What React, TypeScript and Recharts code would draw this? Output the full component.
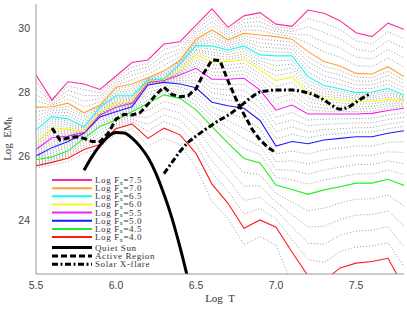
import React from "react";
import { LineChart, Line, XAxis, YAxis, Legend } from "recharts";

// temperature grid of the model tracks
const logT = [5.5, 5.6, 5.7, 5.8, 5.9, 6.0, 6.1, 6.2, 6.3, 6.4, 6.5, 6.6, 6.7, 6.8, 6.9, 7.0, 7.1, 7.2, 7.3, 7.4, 7.5, 7.6, 7.7, 7.8];

// coloured tracks, Log Fx = 4.0 ... 7.5
const fx40 = [25.69, 25.8, 25.93, 26.2, 26.36, 26.85, 27.0, 26.55, 26.87, 26.66, 26.08, 25.12, 24.52, 23.74, 24.0, 23.77, 23.0, 22.25, 22.1, 22.5, 22.65, 22.7, 22.8, 21.9];
const fx45 = [25.88, 25.97, 26.16, 26.55, 26.92, 27.12, 27.38, 27.65, 27.91, 27.8, 27.44, 26.92, 26.4, 25.92, 25.78, 25.09, 24.95, 24.8, 24.94, 25.04, 25.15, 25.15, 25.27, 25.08];
const fx50 = [26.0, 26.26, 26.45, 26.71, 27.22, 27.38, 27.54, 28.22, 28.3, 28.25, 28.13, 27.68, 27.57, 27.49, 27.11, 26.31, 26.45, 26.38, 26.5, 26.55, 26.6, 26.6, 26.71, 26.79];
const fx55 = [26.2, 26.57, 26.62, 26.74, 27.28, 27.52, 27.65, 28.3, 28.36, 28.53, 28.74, 28.4, 28.4, 28.43, 28.06, 27.43, 27.59, 27.31, 27.31, 27.31, 27.31, 27.33, 27.42, 27.49];
const fx60 = [26.42, 26.88, 26.84, 26.76, 27.35, 27.67, 27.7, 28.34, 28.39, 28.66, 29.16, 28.95, 28.95, 29.02, 28.69, 28.35, 28.48, 27.94, 27.77, 27.75, 27.7, 27.7, 27.77, 27.73];
const fx65 = [26.82, 27.23, 27.16, 26.92, 27.52, 27.88, 27.88, 28.37, 28.42, 28.87, 29.45, 29.44, 29.31, 29.44, 29.16, 29.13, 29.13, 28.48, 28.2, 28.1, 27.98, 28.0, 28.11, 27.91];
const fx70 = [27.52, 27.54, 27.65, 27.35, 27.59, 28.15, 28.25, 28.45, 28.66, 29.0, 29.65, 29.94, 29.63, 29.83, 29.78, 29.73, 29.65, 29.26, 28.95, 28.81, 28.58, 28.56, 28.79, 28.48];
const fx75 = [28.53, 27.75, 28.32, 28.25, 28.08, 28.5, 28.92, 29.0, 29.5, 29.57, 30.09, 30.6, 30.02, 30.38, 30.48, 30.12, 30.05, 30.56, 30.46, 30.23, 29.85, 29.73, 30.15, 29.96];

// dotted tracks in between
const fx39 = [25.62, 25.72, 25.82, 26.08, 26.25, 26.7, 26.85, 26.3, 26.56, 26.35, 25.65, 24.57, 24.05, 23.22, 23.48, 23.22, 22.0, 21.3, 21.2, 21.6, 21.8, 21.8, 21.9, 21.0];
const fx41 = [25.73, 25.83, 25.98, 26.27, 26.47, 26.9, 27.08, 26.77, 27.08, 26.89, 26.35, 25.48, 24.9, 24.18, 24.36, 24.03, 23.39, 22.76, 22.67, 23.01, 23.15, 23.19, 23.29, 22.54];
const fx42 = [25.77, 25.87, 26.02, 26.34, 26.58, 26.96, 27.15, 26.99, 27.29, 27.12, 26.62, 25.84, 25.27, 24.61, 24.71, 24.3, 23.78, 23.27, 23.24, 23.52, 23.65, 23.68, 23.79, 23.17];
const fx43 = [25.8, 25.9, 26.07, 26.41, 26.7, 27.01, 27.23, 27.21, 27.49, 27.34, 26.9, 26.2, 25.65, 25.05, 25.07, 24.56, 24.17, 23.78, 23.8, 24.02, 24.15, 24.17, 24.28, 23.81];
const fx44 = [25.84, 25.94, 26.11, 26.48, 26.81, 27.07, 27.3, 27.43, 27.7, 27.57, 27.17, 26.56, 26.02, 25.48, 25.42, 24.83, 24.56, 24.29, 24.37, 24.53, 24.65, 24.66, 24.78, 24.44];
const fx46 = [25.9, 26.03, 26.22, 26.58, 26.98, 27.17, 27.41, 27.76, 27.99, 27.89, 27.58, 27.07, 26.63, 26.23, 26.05, 25.33, 25.25, 25.12, 25.25, 25.34, 25.44, 25.44, 25.56, 25.42];
const fx47 = [25.93, 26.09, 26.28, 26.61, 27.04, 27.22, 27.44, 27.88, 28.07, 27.98, 27.72, 27.22, 26.87, 26.55, 26.31, 25.58, 25.55, 25.43, 25.56, 25.65, 25.73, 25.73, 25.85, 25.76];
const fx48 = [25.95, 26.14, 26.33, 26.65, 27.1, 27.28, 27.48, 27.99, 28.14, 28.07, 27.85, 27.38, 27.1, 26.86, 26.58, 25.82, 25.85, 25.75, 25.88, 25.95, 26.02, 26.02, 26.13, 26.11];
const fx49 = [25.98, 26.2, 26.39, 26.68, 27.16, 27.33, 27.51, 28.11, 28.22, 28.16, 27.99, 27.53, 27.34, 27.18, 26.84, 26.07, 26.15, 26.06, 26.19, 26.25, 26.31, 26.31, 26.42, 26.45];
const fx51 = [26.04, 26.32, 26.48, 26.72, 27.23, 27.41, 27.56, 28.24, 28.31, 28.31, 28.25, 27.82, 27.74, 27.68, 27.3, 26.53, 26.68, 26.57, 26.66, 26.7, 26.74, 26.75, 26.85, 26.93];
const fx52 = [26.08, 26.38, 26.52, 26.72, 27.24, 27.44, 27.58, 28.25, 28.32, 28.36, 28.37, 27.97, 27.9, 27.87, 27.49, 26.76, 26.91, 26.75, 26.82, 26.85, 26.88, 26.89, 26.99, 27.07];
const fx53 = [26.12, 26.45, 26.55, 26.73, 27.26, 27.46, 27.61, 28.27, 28.34, 28.42, 28.5, 28.11, 28.07, 28.05, 27.68, 26.98, 27.13, 26.94, 26.99, 27.01, 27.03, 27.04, 27.14, 27.21];
const fx54 = [26.16, 26.51, 26.59, 26.73, 27.27, 27.49, 27.63, 28.28, 28.35, 28.47, 28.62, 28.26, 28.23, 28.24, 27.87, 27.21, 27.36, 27.12, 27.15, 27.16, 27.17, 27.18, 27.28, 27.35];
const fx56 = [26.24, 26.63, 26.66, 26.74, 27.29, 27.55, 27.66, 28.31, 28.37, 28.56, 28.82, 28.51, 28.51, 28.55, 28.19, 27.61, 27.77, 27.44, 27.4, 27.4, 27.39, 27.4, 27.49, 27.54];
const fx57 = [26.29, 26.69, 26.71, 26.75, 27.31, 27.58, 27.67, 28.32, 28.37, 28.58, 28.91, 28.62, 28.62, 28.67, 28.31, 27.8, 27.95, 27.56, 27.49, 27.49, 27.47, 27.48, 27.56, 27.59];
const fx58 = [26.33, 26.76, 26.75, 26.75, 27.32, 27.61, 27.68, 28.32, 28.38, 28.61, 28.99, 28.73, 28.73, 28.78, 28.44, 27.98, 28.12, 27.69, 27.59, 27.57, 27.54, 27.55, 27.63, 27.63];
const fx59 = [26.38, 26.82, 26.8, 26.76, 27.34, 27.64, 27.69, 28.33, 28.38, 28.63, 29.08, 28.84, 28.84, 28.9, 28.56, 28.17, 28.3, 27.81, 27.68, 27.66, 27.62, 27.63, 27.7, 27.68];
const fx61 = [26.5, 26.95, 26.9, 26.79, 27.38, 27.71, 27.74, 28.35, 28.4, 28.7, 29.22, 29.05, 29.02, 29.1, 28.78, 28.51, 28.61, 28.05, 27.86, 27.82, 27.76, 27.76, 27.84, 27.77];
const fx62 = [26.58, 27.02, 26.97, 26.82, 27.42, 27.75, 27.77, 28.35, 28.4, 28.74, 29.28, 29.15, 29.09, 29.19, 28.88, 28.66, 28.74, 28.16, 27.94, 27.89, 27.81, 27.82, 27.91, 27.8];
const fx63 = [26.66, 27.09, 27.03, 26.86, 27.45, 27.8, 27.81, 28.36, 28.41, 28.79, 29.33, 29.24, 29.17, 29.27, 28.97, 28.82, 28.87, 28.26, 28.03, 27.96, 27.87, 27.88, 27.97, 27.84];
const fx64 = [26.74, 27.16, 27.1, 26.89, 27.49, 27.84, 27.84, 28.36, 28.41, 28.83, 29.39, 29.34, 29.24, 29.36, 29.07, 28.97, 29.0, 28.37, 28.11, 28.03, 27.92, 27.94, 28.04, 27.87];
const fx66 = [26.96, 27.29, 27.26, 27.01, 27.53, 27.93, 27.95, 28.39, 28.47, 28.9, 29.49, 29.54, 29.37, 29.52, 29.28, 29.25, 29.23, 28.64, 28.35, 28.24, 28.1, 28.11, 28.25, 28.02];
const fx67 = [27.1, 27.35, 27.36, 27.09, 27.55, 27.99, 28.03, 28.4, 28.52, 28.92, 29.53, 29.64, 29.44, 29.6, 29.41, 29.37, 29.34, 28.79, 28.5, 28.38, 28.22, 28.22, 28.38, 28.14];
const fx68 = [27.24, 27.42, 27.45, 27.18, 27.56, 28.04, 28.1, 28.42, 28.56, 28.95, 29.57, 29.74, 29.5, 29.67, 29.53, 29.49, 29.44, 28.95, 28.65, 28.53, 28.34, 28.34, 28.52, 28.25];
const fx69 = [27.38, 27.48, 27.55, 27.26, 27.58, 28.1, 28.18, 28.43, 28.61, 28.97, 29.61, 29.84, 29.57, 29.75, 29.66, 29.61, 29.55, 29.1, 28.8, 28.67, 28.46, 28.45, 28.65, 28.37];
const fx71 = [27.72, 27.58, 27.78, 27.53, 27.69, 28.22, 28.38, 28.56, 28.83, 29.11, 29.74, 30.07, 29.71, 29.94, 29.92, 29.81, 29.73, 29.52, 29.25, 29.09, 28.83, 28.79, 29.06, 28.78];
const fx72 = [27.92, 27.62, 27.92, 27.71, 27.79, 28.29, 28.52, 28.67, 29.0, 29.23, 29.83, 30.2, 29.79, 30.05, 30.06, 29.89, 29.81, 29.78, 29.55, 29.38, 29.09, 29.03, 29.33, 29.07];
const fx73 = [28.13, 27.67, 28.05, 27.89, 27.88, 28.36, 28.65, 28.78, 29.16, 29.34, 29.91, 30.34, 29.86, 30.16, 30.2, 29.96, 29.89, 30.04, 29.86, 29.66, 29.34, 29.26, 29.61, 29.37];
const fx74 = [28.33, 27.71, 28.19, 28.07, 27.98, 28.43, 28.79, 28.89, 29.33, 29.46, 30.0, 30.47, 29.94, 30.27, 30.34, 30.04, 29.97, 30.3, 30.16, 29.95, 29.6, 29.5, 29.88, 29.66];

// solar reference curves
const quietT = [5.8, 5.85, 5.9, 5.95, 6.0, 6.05, 6.1, 6.15, 6.2, 6.25, 6.3, 6.35, 6.4, 6.45];
const quietEM = [25.55, 25.98, 26.33, 26.6, 26.73, 26.72, 26.56, 26.3, 25.95, 25.45, 24.8, 24.05, 23.15, 22.15];
const activeT = [5.6, 5.65, 5.7, 5.75, 5.8, 5.85, 5.9, 5.95, 6.0, 6.05, 6.1, 6.15, 6.2, 6.25, 6.3, 6.35, 6.4, 6.45, 6.5, 6.55, 6.6, 6.65, 6.7, 6.75, 6.8, 6.85, 6.9, 6.95, 6.99];
const activeEM = [26.87, 26.5, 26.56, 26.6, 26.55, 26.45, 26.45, 26.7, 27.15, 27.3, 27.28, 27.35, 27.62, 27.92, 28.15, 27.92, 27.85, 27.88, 28.1, 28.6, 29.0, 28.98, 28.35, 27.78, 27.3, 26.84, 26.5, 26.27, 26.13];
const flareT = [6.3, 6.35, 6.4, 6.45, 6.5, 6.55, 6.6, 6.65, 6.7, 6.75, 6.8, 6.85, 6.9, 6.95, 7.0, 7.05, 7.1, 7.15, 7.2, 7.25, 7.3, 7.35, 7.4, 7.45, 7.5, 7.55, 7.58];
const flareEM = [25.45, 25.8, 26.14, 26.42, 26.62, 26.8, 26.97, 27.13, 27.27, 27.45, 27.65, 27.85, 28.0, 28.04, 28.06, 28.06, 28.06, 28.03, 27.97, 27.88, 27.75, 27.58, 27.46, 27.52, 27.68, 27.84, 27.92];

// axis ticks
const xMajor = [5.5, 6.0, 6.5, 7.0, 7.5];
const xMinor = [5.6, 5.7, 5.8, 5.9, 6.1, 6.2, 6.3, 6.4, 6.6, 6.7, 6.8, 6.9, 7.1, 7.2, 7.3, 7.4, 7.6, 7.7];
const yMajor = [24, 26, 28, 30];
const yMinor = [22.5, 23, 23.5, 24.5, 25, 25.5, 26.5, 27, 27.5, 28.5, 29, 29.5, 30.5];

const colored = [
  { key: "fx75", label: "7.5", color: "#ff2a9d", values: fx75 },
  { key: "fx70", label: "7.0", color: "#ffa030", values: fx70 },
  { key: "fx65", label: "6.5", color: "#22f5f5", values: fx65 },
  { key: "fx60", label: "6.0", color: "#f5f522", values: fx60 },
  { key: "fx55", label: "5.5", color: "#f020f0", values: fx55 },
  { key: "fx50", label: "5.0", color: "#1a1aff", values: fx50 },
  { key: "fx45", label: "4.5", color: "#22ee22", values: fx45 },
  { key: "fx40", label: "4.0", color: "#ff1a1a", values: fx40 },
];

const dotted = [
  { key: "fx39", values: fx39 }, { key: "fx41", values: fx41 }, { key: "fx42", values: fx42 },
  { key: "fx43", values: fx43 }, { key: "fx44", values: fx44 }, { key: "fx46", values: fx46 },
  { key: "fx47", values: fx47 }, { key: "fx48", values: fx48 }, { key: "fx49", values: fx49 },
  { key: "fx51", values: fx51 }, { key: "fx52", values: fx52 }, { key: "fx53", values: fx53 },
  { key: "fx54", values: fx54 }, { key: "fx56", values: fx56 }, { key: "fx57", values: fx57 },
  { key: "fx58", values: fx58 }, { key: "fx59", values: fx59 }, { key: "fx61", values: fx61 },
  { key: "fx62", values: fx62 }, { key: "fx63", values: fx63 }, { key: "fx64", values: fx64 },
  { key: "fx66", values: fx66 }, { key: "fx67", values: fx67 }, { key: "fx68", values: fx68 },
  { key: "fx69", values: fx69 }, { key: "fx71", values: fx71 }, { key: "fx72", values: fx72 },
  { key: "fx73", values: fx73 }, { key: "fx74", values: fx74 },
];

const rows = logT.map((t, i) => {
  const row: any = { t };
  [...colored, ...dotted].forEach((s) => (row[s.key] = s.values[i]));
  return row;
});
const quietData = quietT.map((t, i) => ({ t, em: quietEM[i] }));
const activeData = activeT.map((t, i) => ({ t, em: activeEM[i] }));
const flareData = flareT.map((t, i) => ({ t, em: flareEM[i] }));

const AX = "#999";
const SANS = "'Liberation Sans', Arial, sans-serif";
const SERIF = "'Liberation Serif', 'Times New Roman', serif";
const DOM_X: [number, number] = [5.5, 7.8];
const DOM_Y: [number, number] = [22.31, 30.75];

const XTitle = (p: any) => {
  const vb = p.viewBox || { x: 36, y: 274, width: 368, height: 35 };
  return (
    <text x={vb.x + vb.width / 2} y={vb.y + 28} textAnchor="middle" fontFamily={SERIF} fontSize={11} fill="#333" style={{ whiteSpace: "pre" }}>
      Log  T
    </text>
  );
};

const YTitle = (p: any) => {
  const vb = p.viewBox || { x: 0, y: 4, width: 36, height: 270 };
  const cx = vb.x + 7;
  const cy = vb.y + vb.height / 2;
  return (
    <text x={cx} y={cy} transform={`rotate(-90, ${cx}, ${cy})`} textAnchor="middle" dominantBaseline="central" fontFamily={SERIF} fontSize={11} fill="#333" style={{ whiteSpace: "pre" }}>
      Log  EM<tspan dy={2} fontSize={8}>h</tspan>
    </text>
  );
};

const LegendBox = () => {
  const txt = { fontFamily: SERIF, fontSize: 9, fill: "#333", letterSpacing: 0.6 };
  return (
    <svg width={130} height={96}>
      {colored.map((s, i) => {
        const y = 6 + i * 8.15;
        return (
          <g key={s.key}>
            <line x1={2} x2={42} y1={y} y2={y} stroke={s.color} strokeWidth={2} />
            <text x={45} y={y + 3} {...txt}>
              Log F<tspan dy={1.5} fontSize={6}>x</tspan>
              <tspan dy={-1.5}>={s.label}</tspan>
            </text>
          </g>
        );
      })}
      <line x1={2} x2={42} y1={73.5} y2={73.5} stroke="#000" strokeWidth={3} />
      <text x={45} y={76.5} {...txt}>Quiet Sun</text>
      <line x1={2} x2={42} y1={82} y2={82} stroke="#000" strokeWidth={3} strokeDasharray="6 3" />
      <text x={45} y={85} {...txt}>Active Region</text>
      <line x1={2} x2={42} y1={90.2} y2={90.2} stroke="#000" strokeWidth={3} strokeDasharray="6 2.5 2 2.5" />
      <text x={45} y={93.2} {...txt}>Solar X-flare</text>
    </svg>
  );
};

const tickAxisX = (id: string, orientation: "top" | "bottom", ticks: number[], size: number, line: boolean) => (
  <XAxis
    key={id}
    xAxisId={id}
    orientation={orientation}
    type="number"
    domain={DOM_X}
    allowDataOverflow
    ticks={ticks}
    interval={0}
    mirror
    height={0}
    tick={false}
    tickSize={size}
    axisLine={line ? { stroke: AX } : false}
    tickLine={{ stroke: AX }}
  />
);

const tickAxisY = (id: string, orientation: "left" | "right", ticks: number[], size: number, line: boolean) => (
  <YAxis
    key={id}
    yAxisId={id}
    orientation={orientation}
    type="number"
    domain={DOM_Y}
    allowDataOverflow
    ticks={ticks}
    interval={0}
    mirror
    width={0}
    tick={false}
    tickSize={size}
    axisLine={line ? { stroke: AX } : false}
    tickLine={{ stroke: AX }}
  />
);

export default function App() {
  return (
    <div style={{ position: "absolute", left: 0, top: 0, background: "#fff" }}>
      <LineChart width={407} height={309} data={rows} margin={{ top: 4, right: 3, bottom: 0, left: 0 }}>
        <XAxis
          xAxisId="x"
          dataKey="t"
          type="number"
          domain={DOM_X}
          allowDataOverflow
          ticks={xMajor}
          interval={0}
          tickFormatter={(v: number) => v.toFixed(1)}
          height={35}
          tickLine={false}
          tickSize={6}
          tickMargin={2}
          axisLine={{ stroke: AX }}
          tick={{ fill: "#444", fontSize: 10.5, fontFamily: SANS }}
          label={{ content: XTitle }}
        />
        <YAxis
          yAxisId="y"
          type="number"
          domain={DOM_Y}
          allowDataOverflow
          ticks={yMajor}
          interval={0}
          width={36}
          tickLine={false}
          tickSize={4}
          tickMargin={2}
          axisLine={{ stroke: AX }}
          tick={{ fill: "#444", fontSize: 10.5, fontFamily: SANS }}
          label={{ content: YTitle }}
        />
        {tickAxisX("bMaj", "bottom", xMajor, 8, false)}
        {tickAxisX("bMin", "bottom", xMinor, 4, false)}
        {tickAxisX("tMaj", "top", xMajor, 8, true)}
        {tickAxisX("tMin", "top", xMinor, 4, false)}
        {tickAxisY("lMaj", "left", yMajor, 8, false)}
        {tickAxisY("lMin", "left", yMinor, 4, false)}
        {tickAxisY("rMaj", "right", yMajor, 8, true)}
        {tickAxisY("rMin", "right", yMinor, 4, false)}

        {dotted.map((s) => (
          <Line key={s.key} xAxisId="x" yAxisId="y" dataKey={s.key} type="linear" stroke="#9a9a9a" strokeWidth={1} strokeDasharray="1 2" dot={false} activeDot={false} legendType="none" isAnimationActive={false} />
        ))}
        {[...colored].reverse().map((s) => (
          <Line key={s.key} xAxisId="x" yAxisId="y" dataKey={s.key} type="linear" stroke={s.color} strokeWidth={1.1} dot={false} activeDot={false} legendType="none" isAnimationActive={false} />
        ))}
        <Line xAxisId="x" yAxisId="y" data={quietData} dataKey="em" type="monotone" stroke="#000" strokeWidth={3} dot={false} activeDot={false} legendType="none" isAnimationActive={false} />
        <Line xAxisId="x" yAxisId="y" data={activeData} dataKey="em" type="linear" stroke="#000" strokeWidth={3} strokeDasharray="6 3" dot={false} activeDot={false} legendType="none" isAnimationActive={false} />
        <Line xAxisId="x" yAxisId="y" data={flareData} dataKey="em" type="monotone" stroke="#000" strokeWidth={3} strokeDasharray="6 2.5 2 2.5" dot={false} activeDot={false} legendType="none" isAnimationActive={false} />
        <Legend layout="vertical" align="center" verticalAlign="middle" content={() => <LegendBox />} wrapperStyle={{ left: 50, top: 174, width: 130, height: 96 }} />
      </LineChart>
    </div>
  );
}
